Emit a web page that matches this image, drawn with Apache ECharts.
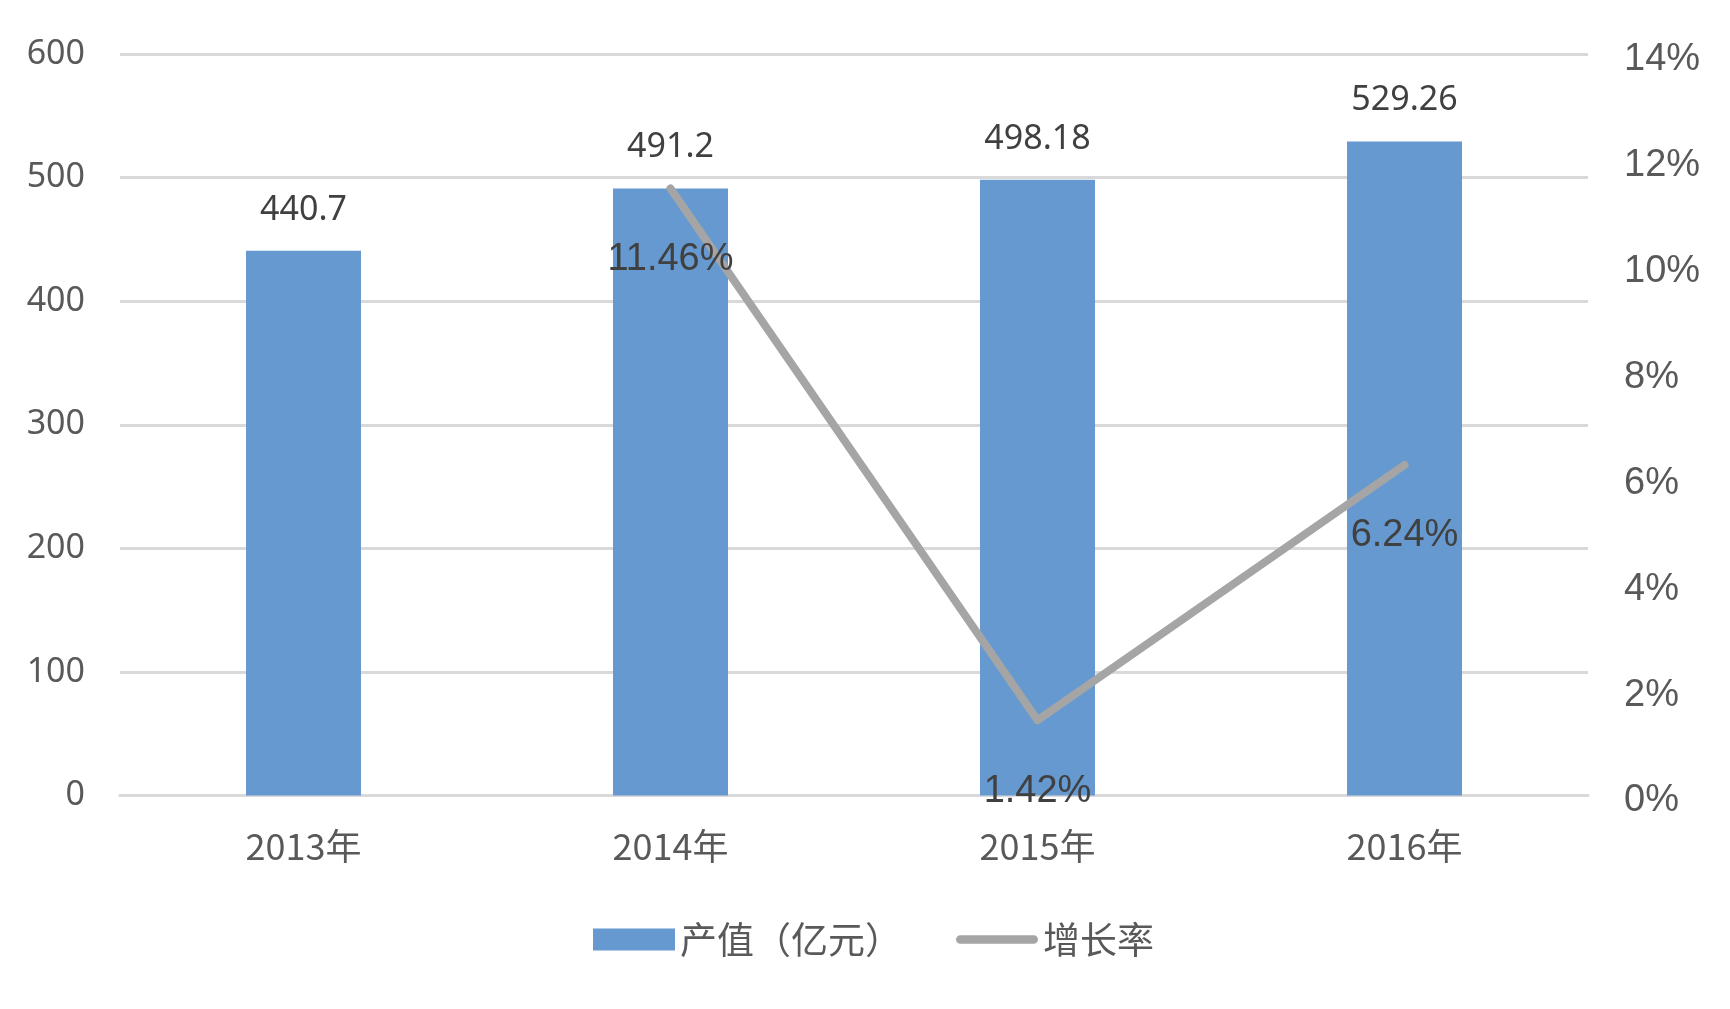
<!DOCTYPE html>
<html>
<head>
<meta charset="utf-8">
<script src="https://cdn.jsdelivr.net/npm/echarts@6/dist/echarts.min.js"></script>
<style>
html,body{margin:0;padding:0;background:#fff;}
#chart{width:1730px;height:1009px;}
</style>
</head>
<body>
<div id="chart"></div>
<script>
var categories = ['2013年', '2014年', '2015年', '2016年'];
var outputValues = [440.7, 491.2, 498.18, 529.26];
var growthRates = [null, 11.46, 1.42, 6.24];
var seriesNames = ['产值（亿元）', '增长率'];

var chart = echarts.init(document.getElementById('chart'));
chart.setOption({
  animation: false,
  backgroundColor: '#ffffff',
  grid: { left: 120, right: 142, top: 54, bottom: 213.5 },
  legend: {
    left: 588,
    top: 916,
    itemGap: 54,
    itemWidth: 82,
    itemHeight: 22,
    textStyle: { fontSize: 37, color: '#595959', fontFamily: 'Noto Sans CJK SC' },
    data: [
      { name: seriesNames[0], icon: 'rect' },
      { name: seriesNames[1], icon: 'path://M4.5,0 L81.5,0 A4.5,4.5 0 0 1 81.5,9 L4.5,9 A4.5,4.5 0 0 1 4.5,0 Z', itemStyle: { color: '#a5a5a5', opacity: 1, borderWidth: 0 } }
    ]
  },
  xAxis: {
    type: 'category',
    data: categories,
    axisLine: { lineStyle: { color: '#d9d9d9', width: 3 } },
    axisTick: { show: false },
    axisLabel: { fontSize: 36, color: '#595959', margin: 33, fontFamily: 'Noto Sans CJK SC' }
  },
  yAxis: [
    {
      type: 'value', min: 0, max: 600, interval: 100,
      axisLine: { show: false }, axisTick: { show: false },
      splitLine: { lineStyle: { color: '#d9d9d9', width: 3 } },
      axisLabel: { fontSize: 34, color: '#595959', margin: 35, fontFamily: 'Noto Sans' }
    },
    {
      type: 'value', min: 0, max: 14, interval: 2,
      axisLine: { show: false }, axisTick: { show: false },
      splitLine: { show: false },
      axisLabel: {
        margin: 36,
        formatter: '{v|{value}%}',
        rich: { v: { fontSize: 38, color: '#595959', fontFamily: '"Liberation Sans", Arial, sans-serif', padding: [11, 0, 0, 0] } }
      }
    }
  ],
  series: [
    {
      name: seriesNames[0],
      type: 'bar',
      data: outputValues,
      barWidth: 115,
      itemStyle: { color: '#6699d0' },
      label: { show: true, position: 'top', distance: 24, fontSize: 34, color: '#404040', fontFamily: 'Noto Sans' }
    },
    {
      name: seriesNames[1],
      type: 'line',
      yAxisIndex: 1,
      data: growthRates,
      symbol: 'circle',
      symbolSize: 0,
      showSymbol: true,
      lineStyle: { color: '#a5a5a5', width: 8, cap: 'round', join: 'round' },
      itemStyle: { color: 'rgba(165,165,165,0)', borderWidth: 0 },
      z: 5,
      label: { show: true, position: 'bottom', distance: 52, fontSize: 38, color: '#404040', fontFamily: '"Liberation Sans", Arial, sans-serif', formatter: '{c}%' }
    }
  ]
});
</script>
</body>
</html>
